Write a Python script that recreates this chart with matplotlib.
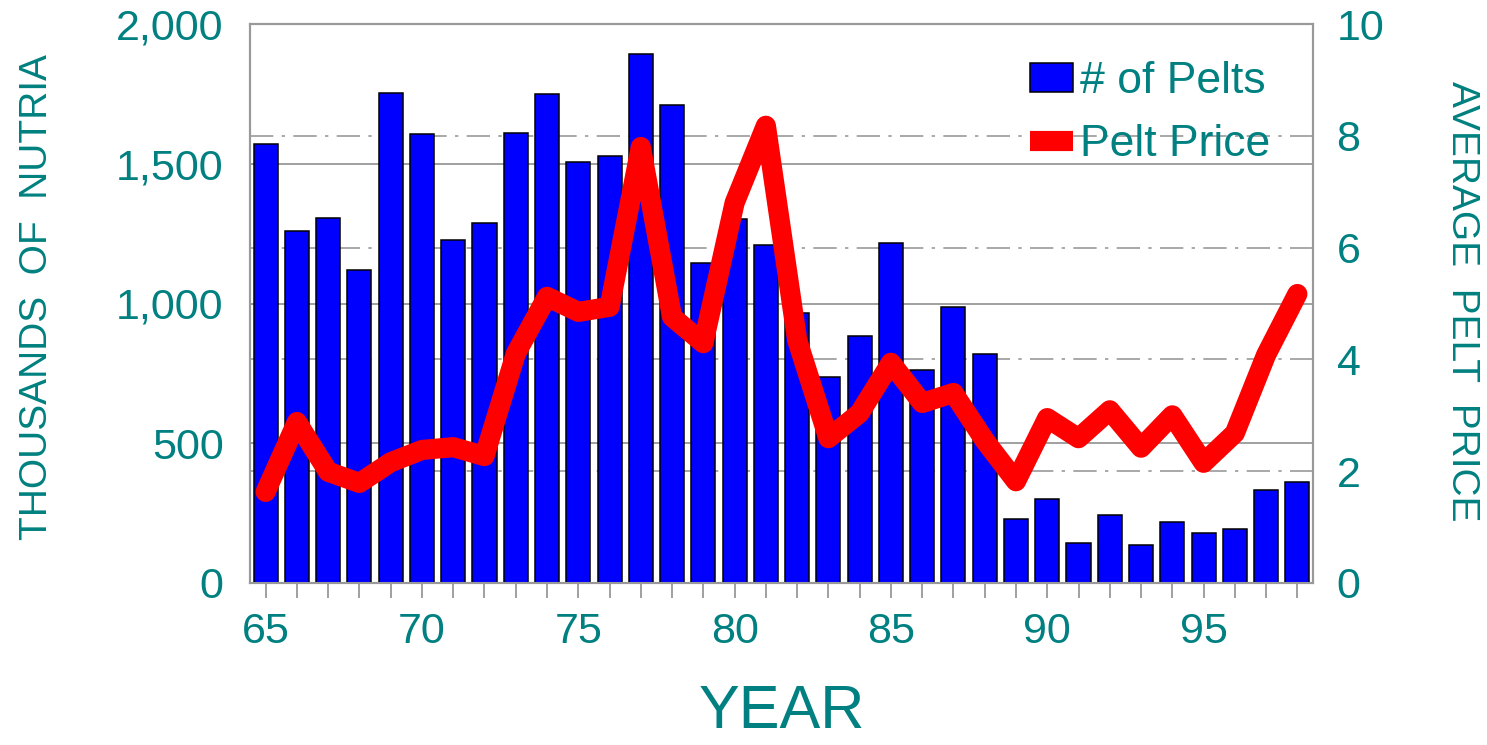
import matplotlib
matplotlib.use("Agg")
import matplotlib.pyplot as plt
from matplotlib.ticker import FuncFormatter, MultipleLocator

# data
years = list(range(65, 99))
pelts = [1571, 1259, 1306, 1120, 1753, 1606, 1227, 1288, 1610, 1750,
         1506, 1528, 1893, 1710, 1145, 1302, 1209, 966, 737, 884,
         1216, 762, 987, 819, 229, 300, 143, 243, 136, 218,
         179, 193, 333, 361]
price = [1.63, 2.88, 1.99, 1.79, 2.16, 2.38, 2.43, 2.27, 4.10, 5.12,
         4.85, 4.94, 7.80, 4.76, 4.29, 6.80, 8.18, 4.35, 2.59, 3.04,
         3.94, 3.22, 3.40, 2.55, 1.82, 2.95, 2.59, 3.09, 2.42, 3.00,
         2.15, 2.68, 4.08, 5.17]
x_labels = [65, 70, 75, 80, 85, 90, 95]

teal = "#008080"
grey = "#999999"
plt.rcParams["font.family"] = ["Liberation Sans", "DejaVu Sans"]

fig = plt.figure(figsize=(14.87, 7.45), dpi=100)
ax = fig.add_axes([250 / 1487, 1 - 583 / 745, 1063 / 1487, 559 / 745])
ax2 = ax.twinx()

# bars
ax.bar(years, pelts, width=0.77, color="#0000ff", edgecolor="black",
       linewidth=1.1, zorder=3, label="# of Pelts")
ax.set_xlim(64.5, 98.5)
ax.set_ylim(0, 2000)
ax2.set_ylim(0, 10)

# grid lines (both behind the bars)
for v in [500, 1000, 1500]:
    ax.axhline(v, color=grey, lw=1.3, zorder=1)
ratio = 2000 / 10
for v in [2, 4, 6, 8]:
    ax.axhline(v * ratio, color=grey, lw=1.2, zorder=1,
               linestyle=(0, (14, 5, 2, 5)))

# price line
ax2.plot(years, price, color="#ff0000", lw=14.5, solid_joinstyle="round",
         solid_capstyle="round", label="Pelt Price", zorder=4)

# ticks
ax.yaxis.set_major_locator(MultipleLocator(500))
ax.yaxis.set_major_formatter(FuncFormatter(lambda v, p: "{:,.0f}".format(v)))
ax.tick_params(axis="y", direction="in", length=11, color=grey, width=1.3,
               labelsize=31, labelcolor=teal, pad=19)
ax.set_xticks(x_labels)
ax.set_xticks(years, minor=True)
ax.tick_params(axis="x", which="both", direction="out", length=11, color=grey,
               width=1.3, labelsize=31, labelcolor=teal, pad=10)
ax2.yaxis.set_major_locator(MultipleLocator(2))
ax2.tick_params(axis="y", length=0, labelsize=31, labelcolor=teal, pad=17)

for a in (ax, ax2):
    for s in a.spines.values():
        s.set_color(grey)
        s.set_linewidth(1.5)

# labels
ax.set_xlabel("YEAR", fontsize=44, color=teal, labelpad=23)
fig.text(37 / 1487, 1 - 297 / 745, "THOUSANDS  OF  NUTRIA", rotation=90,
         fontsize=28, color=teal, ha="center", va="center")
fig.text(1462 / 1487, 1 - 301 / 745, "AVERAGE  PELT  PRICE", rotation=-90,
         fontsize=28, color=teal, ha="center", va="center")

# legend
h1, l1 = ax.get_legend_handles_labels()
h2, l2 = ax2.get_legend_handles_labels()
leg = ax2.legend(h1 + h2, l1 + l2, loc="upper left", frameon=False,
                 bbox_to_anchor=(1030 / 1487, 1 - 61 / 745),
                 bbox_transform=fig.transFigure, fontsize=32,
                 handlelength=0.97, handleheight=0.63, handletextpad=0.15,
                 labelspacing=0.5, borderpad=0, borderaxespad=0)
for t in leg.get_texts():
    t.set_color(teal)
leg.legend_handles[1].set_solid_capstyle("butt")

fig.savefig("out.png", dpi=100)
